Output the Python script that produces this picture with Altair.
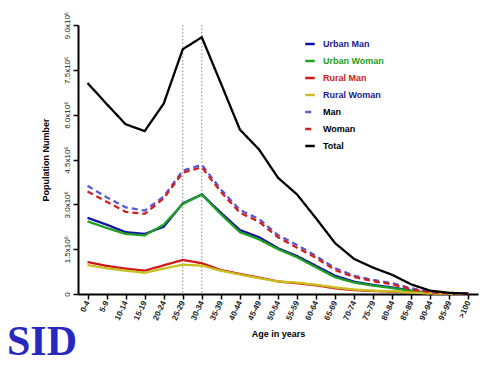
import altair as alt
import pandas as pd

ages = ["0-4", "5-9", "10-14", "15-19", "20-24", "25-29", "30-34", "35-39", "40-44",
        "45-49", "50-54", "55-59", "60-64", "65-69", "70-74", "75-79", "80-84",
        "85-89", "90-94", "95-99", ">100"]

# values in millions
urban_man = [2.55, 2.32, 2.07, 2.01, 2.25, 3.03, 3.33, 2.72, 2.14, 1.90, 1.53, 1.27, 0.94,
             0.61, 0.41, 0.30, 0.22, 0.11, 0.04, 0.01, 0.005]
urban_woman = [2.43, 2.21, 2.01, 1.96, 2.32, 3.01, 3.33, 2.67, 2.07, 1.83, 1.50, 1.23, 0.89,
               0.56, 0.38, 0.28, 0.20, 0.10, 0.04, 0.01, 0.005]
rural_man = [1.07, 0.94, 0.85, 0.78, 0.96, 1.14, 1.03, 0.80, 0.67, 0.55, 0.42, 0.36, 0.29,
             0.19, 0.13, 0.10, 0.08, 0.05, 0.02, 0.005, 0.002]
rural_woman = [0.97, 0.86, 0.78, 0.71, 0.85, 0.98, 0.95, 0.78, 0.65, 0.53, 0.42, 0.38, 0.31,
               0.22, 0.15, 0.11, 0.09, 0.05, 0.02, 0.005, 0.002]
man = [3.62, 3.24, 2.90, 2.79, 3.26, 4.13, 4.32, 3.50, 2.81, 2.51, 1.97, 1.64, 1.27,
       0.86, 0.61, 0.47, 0.36, 0.19, 0.07, 0.02, 0.01]
woman = [3.43, 3.09, 2.75, 2.68, 3.20, 4.06, 4.24, 3.42, 2.72, 2.42, 1.90, 1.55, 1.21,
         0.80, 0.57, 0.43, 0.32, 0.16, 0.06, 0.02, 0.005]
total = [7.06, 6.36, 5.68, 5.45, 6.37, 8.19, 8.59, 7.05, 5.50, 4.84, 3.89, 3.33, 2.53,
         1.70, 1.17, 0.88, 0.64, 0.32, 0.11, 0.04, 0.01]

series_names = ["Urban Man", "Urban Woman", "Rural Man", "Rural Woman", "Man", "Woman", "Total"]
series_values = [urban_man, urban_woman, rural_man, rural_woman, man, woman, total]
series_colors = ["#1010a8", "#20a020", "#d01818", "#c8c020", "#5a5ad8", "#d02020", "#000000"]
series_dash = [[1, 0], [1, 0], [1, 0], [1, 0], [6, 4], [6, 4], [1, 0]]
label_colors = ["#1a1a8c", "#20a020", "#cc2020", "#1a1a8c", "#000000", "#000000", "#000000"]

peak_ages = ["25-29", "30-34"]
logo_text = ["SID"]

rows = []
for name, vals in zip(series_names, series_values):
    for i, (a, v) in enumerate(zip(ages, vals)):
        rows.append({"age": a, "series": name, "value": v, "order": i})
df = pd.DataFrame(rows)

FONT = "Liberation Sans"

x_enc = alt.X("age:N", sort=ages, scale=alt.Scale(type="point", padding=0.5),
              axis=alt.Axis(title="Age in years", labelAngle=-65, labelFontSize=8,
                            labelFontWeight="bold", labelFont=FONT, titleFont=FONT,
                            titleFontSize=9, titleFontWeight="bold", domainColor="black",
                            domainWidth=2, tickColor="black", tickWidth=1.5, tickSize=5,
                            labelColor="#222", titleColor="black", grid=False,
                            labelPadding=2, titlePadding=8))

color_expr = " : ".join(
    [f"datum.label == '{n}' ? '{c}'" for n, c in zip(series_names, label_colors)]) + " : 'black'"

lines = alt.Chart(df).mark_line(strokeWidth=2.3).encode(
    x=x_enc,
    y=alt.Y("value:Q", scale=alt.Scale(domain=[0, 9]),
            axis=alt.Axis(title="Population Number", values=[0, 1.5, 3, 4.5, 6, 7.5, 9],
                          labelExpr="datum.value == 0 ? '0' : format(datum.value, '.1f') + 'x10⁶'",
                          labelAngle=-90, labelFontSize=8, labelFont=FONT, titleFont=FONT,
                          titleFontSize=9, titleFontWeight="bold", domainColor="black",
                          domainWidth=2, tickColor="black", tickWidth=1.5, tickSize=5,
                          labelColor="#222", titleColor="black", grid=False,
                          labelPadding=2, titlePadding=13)),
    color=alt.Color("series:N", scale=alt.Scale(domain=series_names, range=series_colors),
                    legend=alt.Legend(title=None, orient="none", legendX=226, legendY=13,
                                      symbolType="stroke", symbolSize=90, symbolStrokeWidth=2.5,
                                      labelFont=FONT, labelFontSize=9, labelFontWeight="bold",
                                      labelColor={"expr": color_expr}, rowPadding=6,
                                      labelOffset=7)),
    strokeDash=alt.StrokeDash("series:N", scale=alt.Scale(domain=series_names, range=series_dash)),
    order="order:Q",
)

peaks = alt.Chart(pd.DataFrame({"age": peak_ages})).mark_rule(
    color="#888", strokeDash=[1.5, 2], strokeWidth=1
).encode(x=alt.X("age:N", sort=ages))

logo = alt.Chart(pd.DataFrame({"t": logo_text})).mark_text(
    font="Liberation Serif", fontSize=42, fontWeight="bold", color="#2828c0",
    align="center", baseline="alphabetic"
).encode(text="t:N", x=alt.value(-36), y=alt.value(330))

chart = alt.layer(peaks, lines, logo).properties(
    width=400, height=269,
    padding={"left": 70, "top": 17, "right": 7, "bottom": 73},
    autosize="none",
).configure_view(stroke=None)

chart.save("out.html", embed_options={"renderer": "svg", "actions": False})
